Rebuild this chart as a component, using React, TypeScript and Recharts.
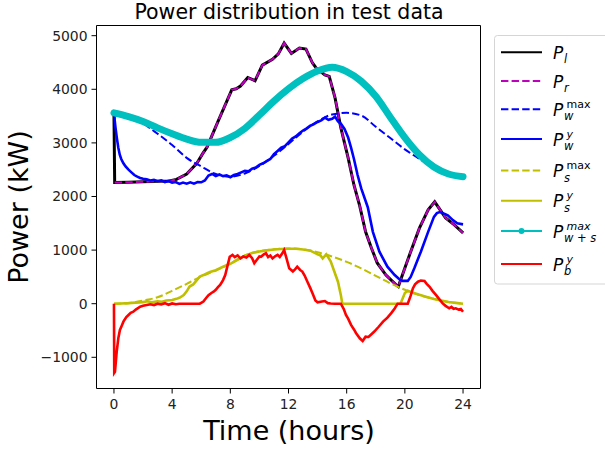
import React from 'react';
import { LineChart, Line, XAxis, YAxis, ReferenceArea } from 'recharts';

// P_l (load) - black
const tLoad = [0, 0.05, 1, 2, 3, 3.8, 4.3, 5, 5.7, 6.1, 6.4, 7.2, 8.1, 8.4, 8.7, 9.2, 9.7, 10.2, 10.9, 11.3, 11.7, 12.2, 12.75, 13.2, 13.65, 13.9, 14.5, 14.8, 15.2, 15.6, 16.1, 16.5, 16.9, 17.3, 17.7, 18.1, 18.7, 19.4, 19.55, 20, 20.4, 21, 21.6, 22.05, 22.8, 23.4, 24];
const pLoad = [3550, 2260, 2265, 2275, 2285, 2290, 2320, 2420, 2620, 2800, 2920, 3430, 3990, 4010, 4060, 4220, 4160, 4450, 4560, 4660, 4860, 4670, 4770, 4750, 4490, 4400, 4270, 4240, 3840, 3280, 2720, 2215, 1820, 1340, 1040, 760, 535, 350, 320, 665, 970, 1410, 1750, 1900, 1600, 1470, 1320];

// P_r - magenta dashed (same as load after the first sample)
const tRef = tLoad.slice(1);
const pRef = pLoad.slice(1);

// P_w^max - blue dashed
const tWindMax = [0, 1, 2, 3, 4, 5, 6, 7, 8, 9, 10, 11, 12, 13, 14, 15, 16, 17, 18, 19, 20, 21, 22, 23, 24];
const pWindMax = [3550, 3480, 3360, 3170, 2960, 2720, 2560, 2420, 2370, 2430, 2570, 2760, 2980, 3210, 3400, 3530, 3560, 3510, 3300, 3090, 2880, 2700, 2540, 2430, 2370];

// P_w^y - blue solid
const tWind = [0, 0.1, 0.2, 0.3, 0.4, 0.5, 0.65, 0.8, 1, 1.2, 1.4, 1.6, 1.8, 2, 2.25, 2.5, 2.75, 3, 3.25, 3.5, 3.75, 4, 4.25, 4.5, 4.75, 5, 5.25, 5.5, 5.75, 6, 6.25, 6.5, 6.75, 7, 7.25, 7.5, 7.75, 8, 8.25, 8.5, 8.75, 9, 9.25, 9.5, 9.75, 10, 10.25, 10.5, 10.75, 11, 11.25, 11.5, 11.75, 12, 12.25, 12.5, 12.75, 13, 13.25, 13.5, 13.75, 14, 14.25, 14.5, 14.75, 15, 15.2, 15.4, 15.6, 15.85, 16.1, 16.3, 16.5, 16.75, 17, 17.45, 17.8, 18.25, 18.8, 19.3, 19.6, 19.85, 20.2, 20.4, 20.65, 21.1, 21.6, 22, 22.2, 22.4, 22.7, 22.95, 23.3, 23.6, 24];
const pWind = [3550, 3300, 3090, 2910, 2780, 2700, 2620, 2560, 2500, 2450, 2400, 2370, 2345, 2330, 2320, 2300, 2310, 2285, 2300, 2270, 2290, 2260, 2270, 2235, 2260, 2240, 2265, 2240, 2270, 2265, 2300, 2390, 2420, 2380, 2410, 2380, 2395, 2360, 2400, 2420, 2450, 2480, 2470, 2520, 2540, 2590, 2620, 2660, 2700, 2790, 2850, 2910, 2940, 3010, 3080, 3120, 3180, 3230, 3270, 3320, 3350, 3390, 3420, 3470, 3430, 3450, 3490, 3400, 3360, 3260, 3100, 2910, 2700, 2400, 2150, 1800, 1340, 970, 690, 535, 460, 425, 425, 500, 660, 970, 1340, 1620, 1690, 1710, 1680, 1650, 1560, 1500, 1480];

// P_s^max - yellow dashed
const tSolarMax = [0, 1, 2, 3, 4, 5, 6, 7, 8, 9, 10, 11, 12, 13, 14, 15, 16, 17, 18, 19, 20, 21, 22, 23, 24];
const pSolarMax = [0, 10, 60, 120, 240, 370, 510, 620, 750, 900, 980, 1015, 1030, 1015, 960, 880, 780, 660, 520, 380, 260, 160, 90, 30, 0];

// P_s^y - yellow solid
const tSolar = [0, 0.5, 1, 1.5, 2, 2.3, 2.6, 3, 3.3, 3.6, 4, 4.3, 4.5, 4.8, 5, 5.2, 5.45, 5.7, 5.9, 6.2, 6.6, 7, 7.5, 8, 8.5, 9, 9.5, 10, 10.5, 11, 11.5, 12, 12.5, 13, 13.5, 14, 14.2, 14.35, 14.6, 14.9, 15.15, 15.4, 15.6, 15.7, 16, 17, 18, 19, 19.7, 20, 20.2, 20.5, 21, 21.5, 22, 22.5, 23, 23.5, 24];
const pSolar = [0, 5, 10, 20, 30, 45, 25, 45, 35, 60, 70, 90, 110, 160, 230, 320, 360, 440, 505, 540, 590, 625, 690, 745, 820, 895, 945, 975, 995, 1010, 1020, 1025, 1025, 1010, 990, 920, 900, 845, 920, 790, 600, 410, 160, 0, 0, 0, 0, 0, 0, 200, 240, 210, 165, 125, 88, 60, 32, 15, 0];

// P_{w+s}^max - cyan markers
const tRenewMax = [0, 1, 2, 3, 4, 5, 6, 7, 8, 9, 10, 11, 12, 13, 14, 15, 16, 17, 18, 19, 20, 21, 22, 23, 24];
const pRenewMax = [3560, 3490, 3400, 3280, 3170, 3070, 3010, 3010, 3100, 3270, 3520, 3780, 4010, 4200, 4340, 4410, 4330, 4150, 3870, 3480, 3100, 2780, 2550, 2420, 2370];

// P_b^y - red (battery)
const tBatt = [0, 0.02, 0.07, 0.19, 0.3, 0.41, 0.55, 0.65, 0.85, 1, 1.15, 1.33, 1.5, 1.8, 2, 2.25, 2.5, 2.75, 3, 3.25, 3.5, 3.75, 4, 4.25, 4.5, 4.75, 5, 5.5, 5.9, 6.15, 6.35, 6.5, 6.7, 6.85, 7, 7.15, 7.3, 7.5, 7.65, 7.8, 7.96, 8.15, 8.3, 8.5, 8.7, 8.9, 9.1, 9.3, 9.5, 9.65, 9.8, 10, 10.1, 10.3, 10.45, 10.6, 10.75, 10.9, 11.1, 11.25, 11.4, 11.55, 11.7, 11.85, 12.05, 12.3, 12.45, 12.6, 12.8, 12.95, 13.1, 13.3, 13.5, 13.65, 13.85, 14, 14.3, 14.5, 14.7, 14.9, 15.2, 15.6, 15.8, 15.95, 16.1, 16.3, 16.5, 16.65, 16.9, 17.1, 17.3, 17.5, 17.7, 17.9, 18.2, 18.5, 18.8, 19.05, 19.3, 19.5, 20.2, 20.4, 20.55, 20.7, 20.9, 21.1, 21.35, 21.5, 21.7, 21.9, 22.15, 22.35, 22.6, 22.8, 23.05, 23.2, 23.35, 23.5, 23.7, 23.85, 24];
const pBatt = [0, -1290, -1270, -895, -645, -490, -400, -335, -250, -210, -170, -150, -110, -55, -40, -25, -10, -25, 0, -15, 10, -20, 5, -10, 0, 0, 0, 0, 0, 40, 110, 160, 200, 225, 260, 310, 350, 440, 535, 700, 875, 910, 870, 900, 845, 880, 860, 910, 850, 755, 810, 880, 875, 920, 940, 870, 900, 845, 890, 910, 870, 930, 1000, 860, 660, 600, 640, 690, 630, 600, 530, 410, 290, 195, 60, 25, 40, 50, 10, 5, 0, 0, -100, -210, -280, -395, -480, -550, -645, -695, -615, -620, -570, -520, -430, -335, -260, -180, -90, 0, 0, 150, 285, 360, 410, 430, 425, 370, 315, 240, 160, 90, 5, -40, -85, -60, -95, -85, -110, -100, -150];

const xTicks = [0, 4, 8, 12, 16, 20, 24];
const yTicks = [-1000, 0, 1000, 2000, 3000, 4000, 5000];

const xDomain: [number, number] = [-1.2, 25.2];
const yDomain: [number, number] = [-1582, 5190];

const FONT = '"DejaVu Sans", sans-serif';
const DASH = '7.4 3.2';

const toPoints = (ts: number[], vs: number[]) => ts.map((t, i) => ({ t, v: vs[i] }));

const fmtY = (v: number) => (v < 0 ? '\u2212' + Math.abs(v) : String(v));

interface LegendItem {
  color: string;
  dash?: string;
  dot?: boolean;
  sub: React.ReactNode;
  sup?: React.ReactNode;
  y: number;
}

const legendItems: LegendItem[] = [
  { color: '#000000', sub: <tspan fontStyle="italic">l</tspan>, y: 52.3 },
  { color: '#bf00bf', dash: DASH, sub: <tspan fontStyle="italic">r</tspan>, y: 81 },
  { color: '#0000ff', dash: DASH, sub: <tspan fontStyle="italic">w</tspan>, sup: 'max', y: 109.3 },
  { color: '#0000ff', sub: <tspan fontStyle="italic">w</tspan>, sup: <tspan fontStyle="italic">y</tspan>, y: 139 },
  { color: '#bfbf00', dash: DASH, sub: <tspan fontStyle="italic">s</tspan>, sup: 'max', y: 170.5 },
  { color: '#bfbf00', sub: <tspan fontStyle="italic">s</tspan>, sup: <tspan fontStyle="italic">y</tspan>, y: 200.7 },
  {
    color: '#00bfbf',
    dot: true,
    sub: (
      <>
        <tspan fontStyle="italic">w</tspan>
        <tspan> + </tspan>
        <tspan fontStyle="italic">s</tspan>
      </>
    ),
    sup: <tspan fontStyle="italic">max</tspan>,
    y: 231,
  },
  { color: '#ff0000', sub: <tspan fontStyle="italic">b</tspan>, sup: <tspan fontStyle="italic">y</tspan>, y: 264 },
];

const Overlay = () => (
  <svg
    width={605}
    height={449}
    style={{ position: 'absolute', left: 0, top: 0, pointerEvents: 'none' }}
    fontFamily={FONT}
  >
    <text x={289} y={18.5} textAnchor="middle" fontSize={20.5} fill="#000">
      Power distribution in test data
    </text>
    <text x={289} y={440} textAnchor="middle" fontSize={27} fill="#000">
      Time (hours)
    </text>
    <text transform="translate(28, 207) rotate(-90)" textAnchor="middle" fontSize={27} fill="#000">
      Power (kW)
    </text>

    <rect x={494.5} y={35.5} width={120} height={248.5} rx={3} fill="#ffffff" fillOpacity={0.8} stroke="#d5d5d5" />
    {legendItems.map((it, i) => (
      <g key={i}>
        <line x1={501} x2={542} y1={it.y} y2={it.y} stroke={it.color} strokeWidth={2} strokeDasharray={it.dash} />
        {it.dot && <circle cx={521.5} cy={it.y} r={3} fill={it.color} />}
        <text x={553} y={it.y + 6.5} fontSize={17} fontStyle="italic" fill="#000">
          P
        </text>
        <text x={564} y={it.y + 11} fontSize={11.5} fill="#000">
          {it.sub}
        </text>
        {it.sup && (
          <text x={566.5} y={it.y - 1.5} fontSize={11} fill="#000">
            {it.sup}
          </text>
        )}
      </g>
    ))}
  </svg>
);

const App: React.FC = () => {
  return (
    <div style={{ position: 'absolute', left: 0, top: 0, width: 605, height: 449, background: '#fff' }}>
      <LineChart width={605} height={449} margin={{ top: 25.5, right: 124.5, bottom: 30.5, left: 36.5 }}>
        <XAxis
          dataKey="t"
          type="number"
          domain={xDomain}
          ticks={xTicks}
          allowDataOverflow
          axisLine={false}
          tickLine={{ stroke: '#000' }}
          tickSize={5}
          tickMargin={6}
          height={30}
          tick={{ fontSize: 13.9, fill: '#222', fontFamily: FONT }}
        />
        <YAxis
          type="number"
          domain={yDomain}
          ticks={yTicks}
          allowDataOverflow
          axisLine={false}
          tickLine={{ stroke: '#000' }}
          tickSize={5}
          tickMargin={4}
          width={60}
          tickFormatter={fmtY}
          tick={{ fontSize: 13.9, fill: '#222', fontFamily: FONT }}
        />
        <Line data={toPoints(tLoad, pLoad)} dataKey="v" type="linear" stroke="#000000" strokeWidth={3} dot={false} isAnimationActive={false} />
        <Line data={toPoints(tRef, pRef)} dataKey="v" type="linear" stroke="#bf00bf" strokeWidth={2} strokeDasharray={DASH} dot={false} isAnimationActive={false} />
        <Line data={toPoints(tWindMax, pWindMax)} dataKey="v" type="monotone" stroke="#0000ff" strokeWidth={2} strokeDasharray={DASH} dot={false} isAnimationActive={false} />
        <Line data={toPoints(tWind, pWind)} dataKey="v" type="linear" stroke="#0000ff" strokeWidth={2.6} dot={false} isAnimationActive={false} />
        <Line data={toPoints(tSolarMax, pSolarMax)} dataKey="v" type="monotone" stroke="#bfbf00" strokeWidth={2} strokeDasharray={DASH} dot={false} isAnimationActive={false} />
        <Line data={toPoints(tSolar, pSolar)} dataKey="v" type="linear" stroke="#bfbf00" strokeWidth={2.6} dot={false} isAnimationActive={false} />
        <Line data={toPoints(tRenewMax, pRenewMax)} dataKey="v" type="monotone" stroke="#00bfbf" strokeWidth={7} strokeLinecap="round" dot={false} isAnimationActive={false} />
        <Line data={toPoints(tBatt, pBatt)} dataKey="v" type="linear" stroke="#ff0000" strokeWidth={2.6} dot={false} isAnimationActive={false} />
        <ReferenceArea x1={xDomain[0]} x2={xDomain[1]} y1={yDomain[0]} y2={yDomain[1]} fill="none" stroke="#000" strokeWidth={1} />
      </LineChart>
      <Overlay />
    </div>
  );
};

export default App;
